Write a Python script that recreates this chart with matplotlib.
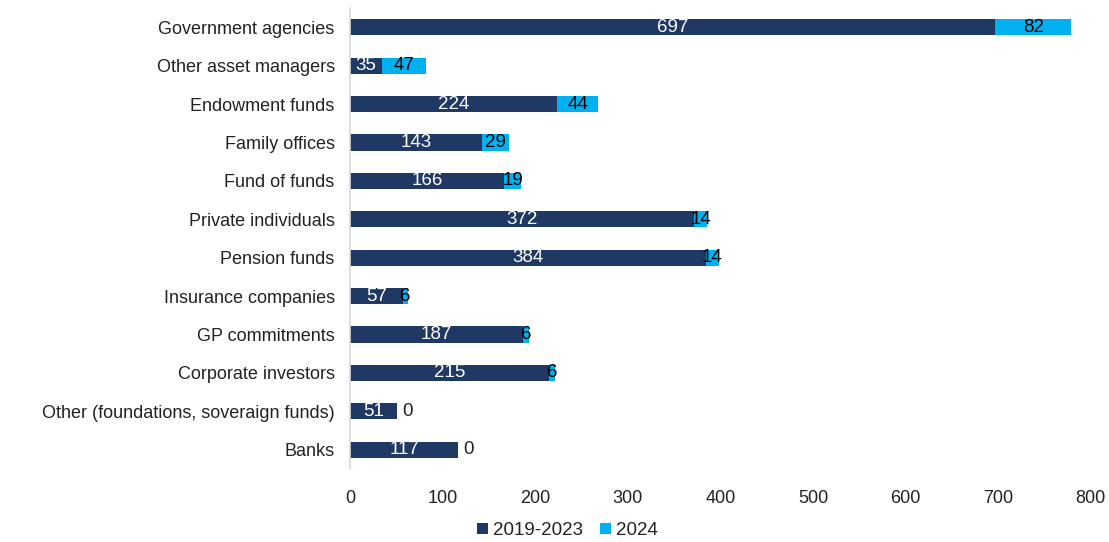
import matplotlib.pyplot as plt
import numpy as np

categories = [
    "Government agencies",
    "Other asset managers",
    "Endowment funds",
    "Family offices",
    "Fund of funds",
    "Private individuals",
    "Pension funds",
    "Insurance companies",
    "GP commitments",
    "Corporate investors",
    "Other (foundations, soveraign funds)",
    "Banks",
]
vals_2019_2023 = [697, 35, 224, 143, 166, 372, 384, 57, 187, 215, 51, 117]
vals_2024 = [82, 47, 44, 29, 19, 14, 14, 6, 6, 6, 0, 0]

NAVY = "#203864"
CYAN = "#00B0F0"

plt.rcParams["font.family"] = ["Liberation Sans", "DejaVu Sans"]

fig = plt.figure(figsize=(11.09, 5.42), dpi=100)
ax = fig.add_axes([0.3156, 0.135, 0.668, 0.85])

y = np.arange(len(categories))
a = np.array(vals_2019_2023)
b = np.array(vals_2024)

ax.barh(y, a, height=0.42, color=NAVY, label="2019-2023")
ax.barh(y, b, left=a, height=0.42, color=CYAN, label="2024")

for yi, v1, v2 in zip(y, a, b):
    ax.text(v1 / 2, yi, str(v1), ha="center", va="center",
            color="white", fontsize=13.5)
    if v2 > 0:
        ax.text(v1 + v2 / 2, yi, str(v2), ha="center", va="center",
                color="black", fontsize=13.5)
    else:
        ax.text(v1 + 5, yi, str(v2), ha="left", va="center",
                color="#222222", fontsize=13.5)

ax.set_ylim(len(categories) - 0.5, -0.5)
ax.set_xlim(0, 800)
ax.set_xticks(np.arange(0, 801, 100))
ax.set_yticks(y)
ax.set_yticklabels(categories)
ax.tick_params(axis="y", length=0, pad=11, labelsize=13, labelcolor="#222222")
ax.tick_params(axis="x", length=0, pad=15, labelsize=13, labelcolor="#222222")

for side in ("top", "right", "bottom"):
    ax.spines[side].set_visible(False)
ax.spines["left"].set_color("#d9d9d9")
ax.spines["left"].set_linewidth(1.2)

handles, labels = ax.get_legend_handles_labels()
fig.legend(handles, labels, loc="lower center", bbox_to_anchor=(0.512, -0.016),
           ncol=2, frameon=False, fontsize=13.5, handlelength=0.55,
           handleheight=0.55, handletextpad=0.3, columnspacing=0.9,
           labelcolor="#222222", borderaxespad=0.2)

fig.savefig("out.png", dpi=100)
